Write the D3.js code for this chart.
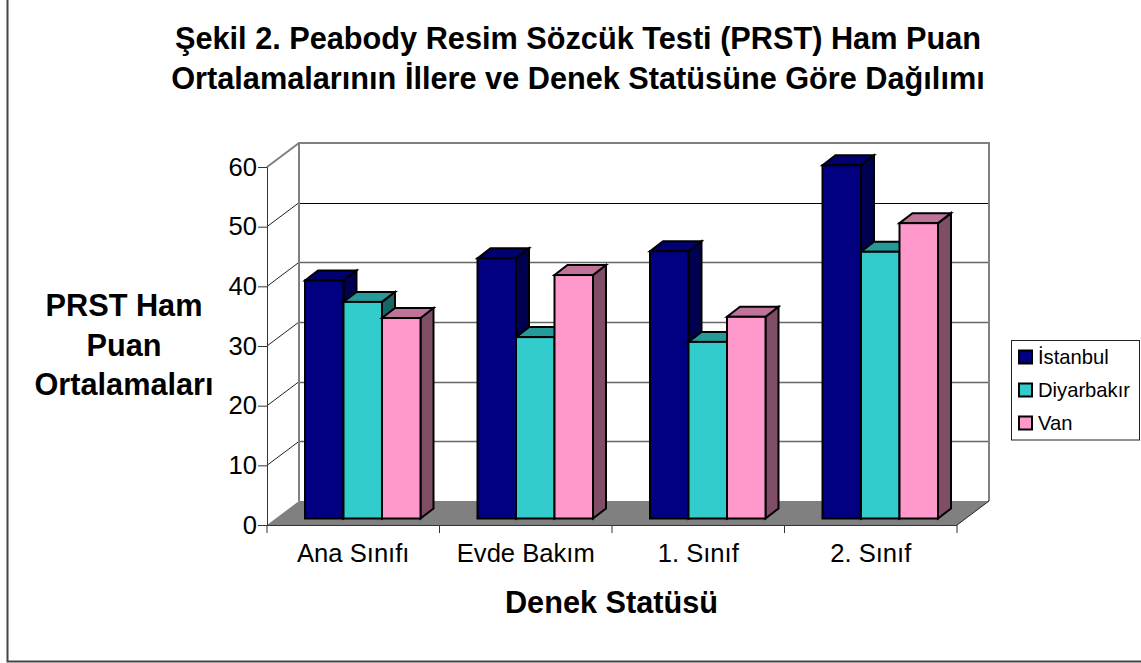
<!DOCTYPE html>
<html>
<head>
<meta charset="utf-8">
<script src="https://cdn.jsdelivr.net/npm/d3@7"></script>
<style>
body { margin: 0; background: #fff; }
svg { display: block; font-family: "Liberation Sans", Arial, sans-serif; }
</style>
</head>
<body>
<svg width="1141" height="663"></svg>
<script>
// chart data
var categories = ["Ana Sınıfı", "Evde Bakım", "1. Sınıf", "2. Sınıf"];
var seriesNames = ["İstanbul", "Diyarbakır", "Van"];
var istanbul = [39.9, 43.6, 44.8, 59.2];
var diyarbakir = [36.3, 30.4, 29.6, 44.7];
var van = [33.6, 40.8, 33.8, 49.5];
var yTicks = [0, 10, 20, 30, 40, 50, 60];
var titleLines = ["Şekil 2. Peabody Resim Sözcük Testi (PRST) Ham Puan", "Ortalamalarının İllere ve Denek Statüsüne Göre Dağılımı"];
var yTitleLines = ["PRST Ham", "Puan", "Ortalamaları"];
var xTitle = "Denek Statüsü";

var seriesValues = [istanbul, diyarbakir, van];
var front = ["#000080", "#33cccc", "#ff99cc"];
var top_ = ["#000070", "#269999", "#bf7399"];
var side = ["#000050", "#1a6666", "#804d66"];

var svg = d3.select("svg");

// outer frame, only left and bottom show in the picture
svg.append("path")
    .attr("d", "M7.5,0V661.5H1141")
    .attr("fill", "none")
    .attr("stroke", "#444")
    .attr("stroke-width", 2);

var left = 267, right = 957, bottom = 525, topY = 167;
var wallDx = 32, wallDy = -24;   // depth of the box
var barDx = 13, barDy = -10;     // depth of a bar
var offX = 9.5, offY = -6.5;     // bars sit a bit into the floor

var y = d3.scaleLinear().domain([0, 60]).range([bottom, topY]);
var x = d3.scaleBand().domain(categories).range([left, right]);
var barW = 38.5;
var groupPad = (x.bandwidth() - 3 * barW) / 2;

// floor
svg.append("path")
    .attr("d", d3.line()([[left, bottom], [left + wallDx, bottom + wallDy], [right + wallDx, bottom + wallDy], [right, bottom]]))
    .attr("fill", "#808080");

// side wall and gridlines
yTicks.slice(1).forEach(function(t) {
    svg.append("line")
        .attr("x1", left).attr("y1", y(t))
        .attr("x2", left + wallDx).attr("y2", y(t) + wallDy)
        .attr("stroke", t == 60 ? "#808080" : "#222")
        .attr("stroke-width", t == 60 ? 2 : 1);
    if (t < 60) {
        svg.append("line")
            .attr("x1", left + wallDx).attr("y1", Math.round(y(t) + wallDy) + 0.5)
            .attr("x2", right + wallDx).attr("y2", Math.round(y(t) + wallDy) + 0.5)
            .attr("stroke", t == 50 ? "#000" : "#666")
            .attr("stroke-width", t == 50 ? 1 : 1.5);
    }
});

// back wall frame
svg.append("path")
    .attr("d", d3.line()([[left + wallDx, bottom + wallDy], [left + wallDx, topY + wallDy], [right + wallDx, topY + wallDy], [right + wallDx, bottom + wallDy]]))
    .attr("fill", "none")
    .attr("stroke", "#808080")
    .attr("stroke-width", 2);
svg.append("line")
    .attr("x1", right).attr("y1", bottom)
    .attr("x2", right + wallDx).attr("y2", bottom + wallDy)
    .attr("stroke", "#222");

// axes
var yAxis = d3.axisLeft(y).tickValues(yTicks).tickSize(9);
var yg = svg.append("g").attr("transform", "translate(" + left + ",0)").call(yAxis);
yg.select(".domain").attr("stroke", "#333");
yg.selectAll(".tick line").attr("stroke", "#333");
yg.selectAll(".tick text")
    .attr("x", -10)
    .attr("font-size", 25.6)
    .attr("font-family", "Liberation Sans")
    .attr("fill", "#000");

var xAxis = d3.axisBottom(x).tickSize(0);
var xg = svg.append("g").attr("transform", "translate(0," + bottom + ")").call(xAxis);
xg.select(".domain").attr("stroke", "#333").attr("d", "M" + left + ",0.5H" + right);
xg.selectAll(".tick text")
    .attr("y", 36.7)
    .attr("dy", 0)
    .attr("font-size", 25.6)
    .attr("font-family", "Liberation Sans")
    .attr("fill", "#000");
d3.range(categories.length + 1).forEach(function(i) {
    var px = left + i * x.bandwidth();
    svg.append("line")
        .attr("x1", px).attr("y1", bottom)
        .attr("x2", px).attr("y2", bottom + 8)
        .attr("stroke", "#333");
});

// bars, series by series inside each category
categories.forEach(function(c, ci) {
    seriesValues.forEach(function(vals, si) {
        var x0 = x(c) + offX + groupPad + si * barW;
        var x1 = x0 + barW;
        var yb = y(0) + offY;
        var yt = y(vals[ci]) + offY;
        var g = svg.append("g")
            .attr("stroke", "#000")
            .attr("stroke-width", 2)
            .attr("stroke-linejoin", "miter");
        g.append("path")
            .attr("d", d3.line()([[x1, yb], [x1 + barDx, yb + barDy], [x1 + barDx, yt + barDy], [x1, yt]]) + "Z")
            .attr("fill", side[si]);
        g.append("path")
            .attr("d", d3.line()([[x0, yt], [x0 + barDx, yt + barDy], [x1 + barDx, yt + barDy], [x1, yt]]) + "Z")
            .attr("fill", top_[si]);
        g.append("rect")
            .attr("x", x0).attr("y", yt)
            .attr("width", barW).attr("height", yb - yt)
            .attr("fill", front[si]);
    });
});

// titles
svg.append("g").selectAll("text").data(titleLines).enter().append("text")
    .attr("x", 578)
    .attr("y", function(d, i) { return 49 + i * 40; })
    .attr("text-anchor", "middle")
    .attr("font-size", 30.7)
    .attr("font-weight", "bold")
    .text(function(d) { return d; });

svg.append("g").selectAll("text").data(yTitleLines).enter().append("text")
    .attr("x", 124)
    .attr("y", function(d, i) { return 316 + i * 39.5; })
    .attr("text-anchor", "middle")
    .attr("font-size", 30.7)
    .attr("font-weight", "bold")
    .text(function(d) { return d; });

svg.append("text")
    .attr("x", 611.5)
    .attr("y", 613)
    .attr("text-anchor", "middle")
    .attr("font-size", 30.7)
    .attr("font-weight", "bold")
    .text(xTitle);

// legend
var legendY = d3.scalePoint().domain(seriesNames).range([357, 423]);
svg.append("rect")
    .attr("x", 1011.5).attr("y", 340.5)
    .attr("width", 128).attr("height", 99.5)
    .attr("fill", "#fff")
    .attr("stroke", "#222");
seriesNames.forEach(function(name, i) {
    svg.append("rect")
        .attr("x", 1019).attr("y", legendY(name) - 6.5)
        .attr("width", 13).attr("height", 13)
        .attr("fill", front[i])
        .attr("stroke", "#000")
        .attr("stroke-width", 2);
    svg.append("text")
        .attr("x", 1038)
        .attr("y", legendY(name) + 6.5)
        .attr("font-size", 20.2)
        .text(name);
});
</script>
</body>
</html>
